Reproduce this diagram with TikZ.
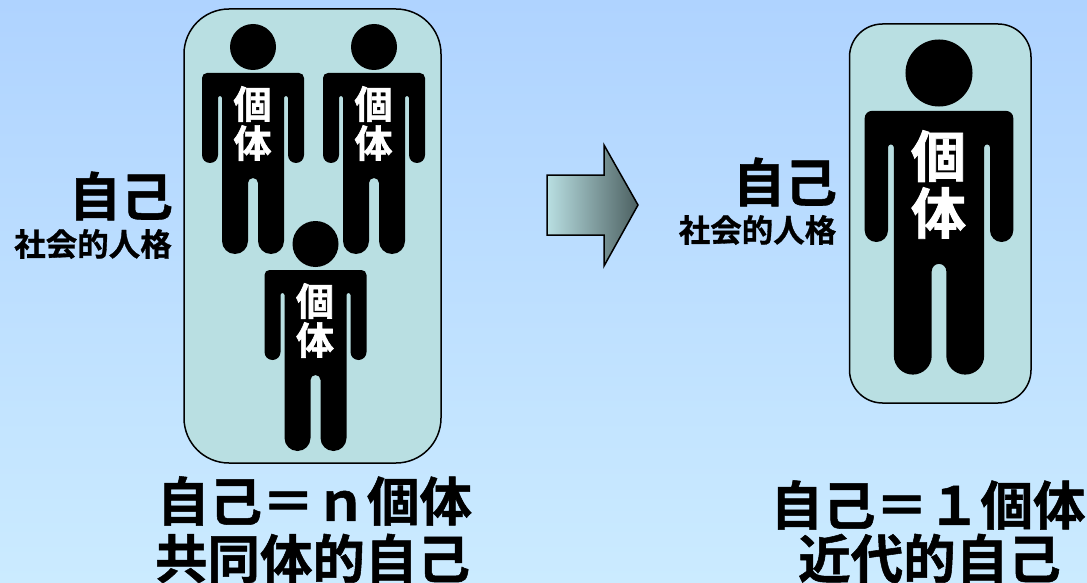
\documentclass[tikz,border=0pt]{standalone}
\usepackage{fontspec}
\newfontfamily\cjk[FakeBold=1.0]{Noto Sans CJK JP Bold}
\newfontfamily\cjkheavy[FakeBold=1.6]{Noto Sans CJK JP Bold}
\usetikzlibrary{shadings}
\definecolor{panel}{HTML}{B9DFE2}
\definecolor{bgtop}{HTML}{AFD3FF}
\definecolor{bgbot}{HTML}{CBEBFF}
\definecolor{arrowend}{HTML}{4C6061}
\tikzset{
  person/.pic={
    \fill[black] (0,0) circle[radius=23];
    \fill[black] (-46,26) -- (46,26) arc(-90:0:5) -- (51,108) arc(0:180:8)
      -- (35,51) arc(0:-180:2) -- (31,194) arc(0:180:13) -- (5,136) arc(0:-180:5)
      -- (-5,194) arc(0:180:13) -- (-31,51) arc(0:-180:2) -- (-35,108) arc(0:180:8)
      -- (-51,31) arc(180:270:5) -- cycle;
  },
  panelbox/.style={draw=black,line width=1.5pt,fill=panel},
  bodytext/.style={text=white,align=center,inner sep=0pt},
  smallbody/.style={bodytext,font=\cjkheavy\fontsize{38}{39}\selectfont},
  bigbody/.style={bodytext,font=\cjkheavy\fontsize{55}{57}\selectfont},
  selflabel/.style={inner sep=0pt,font=\cjk\fontsize{52}{52}\selectfont},
  rolelabel/.style={inner sep=0pt,font=\cjk\fontsize{31.5}{32}\selectfont},
  caption/.style={inner sep=0pt,font=\cjk\fontsize{52.5}{53}\selectfont},
}
\begin{document}
\begin{tikzpicture}[x=1pt,y=-1pt]
\path[use as bounding box,top color=bgtop,bottom color=bgbot] (0,0) rectangle (1087,583);
\draw[panelbox,rounded corners=45pt] (184,9) rectangle (441,463);
\draw[panelbox,rounded corners=33pt] (849.5,24) rectangle (1031,403);
\pic at (253,47) {person};
\pic at (374,47) {person};
\pic at (315.5,244) {person};
\pic[scale=1.457] at (939,73) {person};
\node[smallbody] (a1) at (252.5,123.5) {個\\体};
\node[smallbody] (a2) at (373.5,123.5) {個\\体};
\node[smallbody] (a3) at (315,320.5) {個\\体};
\node[bigbody] (b1) at (938.5,184.5) {個\\体};
\path[draw=black,line width=1.5pt,left color=panel,right color=arrowend]
  (547,175) -- (604,175) -- (604,145) -- (638,205) -- (604,266) -- (604,235) -- (547,235) -- cycle;
\node[selflabel] (s1) at (121,196) {自己};
\node[rolelabel] (r1) at (93,244) {社会的人格};
\node[selflabel] (s2) at (785,182) {自己};
\node[rolelabel] (r2) at (757.5,230) {社会的人格};
\node[caption] (c1) at (314.5,501) {自己＝ｎ個体};
\node[caption] (c2) at (312.5,558.5) {共同体的自己};
\node[caption] (c3) at (928,505) {自己＝１個体};
\node[caption] (c4) at (929.5,558.5) {近代的自己};
\end{tikzpicture}
\end{document}
